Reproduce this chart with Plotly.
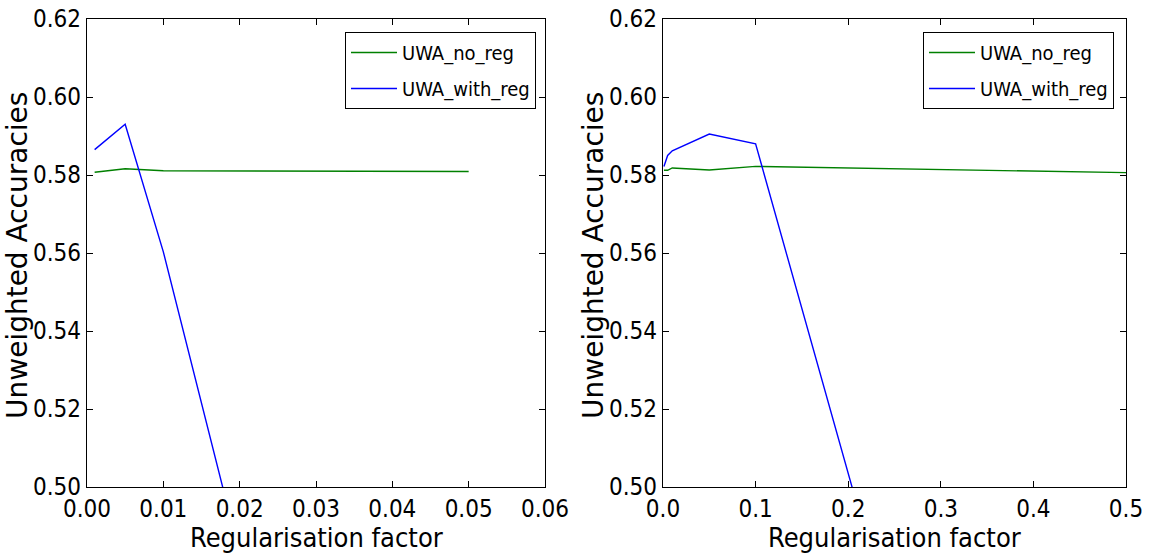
import plotly.graph_objects as go

# Left panel: small regularisation factors
reg_small = [0.001, 0.005, 0.01, 0.05]
uwa_no_reg_small = [0.5807, 0.5816, 0.5811, 0.5809]
uwa_with_reg_small = [0.5865, 0.5930, 0.5603, 0.2500]

# Right panel: wider range of regularisation factors
reg_wide = [0.001, 0.005, 0.01, 0.05, 0.1, 0.5]
uwa_no_reg_wide = [0.5812, 0.5812, 0.5818, 0.5813, 0.5822, 0.5806]
uwa_with_reg_wide = [0.5822, 0.5850, 0.5862, 0.5905, 0.5880, 0.2500]

y_ticks = [0.50, 0.52, 0.54, 0.56, 0.58, 0.60, 0.62]

GREEN = "#008000"
BLUE = "#0000ff"
COND = "DejaVu Sans Condensed, Liberation Sans Narrow, sans-serif"
TICK_FONT = dict(family=COND, size=24, color="black")
LEGEND_FONT = dict(family=COND, size=20, color="black")
TITLE_FONT_X = dict(family=COND, size=27, color="black")
TITLE_FONT_Y = dict(family="DejaVu Sans, sans-serif", size=28, color="black")

W, H = 1149, 555

fig = go.Figure()

fig.add_trace(go.Scatter(x=reg_small, y=uwa_no_reg_small, mode="lines", name="UWA_no_reg",
                         line=dict(color=GREEN, width=1.4), xaxis="x", yaxis="y",
                         legend="legend", legendgroup="a"))
fig.add_trace(go.Scatter(x=reg_small, y=uwa_with_reg_small, mode="lines", name="UWA_with_reg",
                         line=dict(color=BLUE, width=1.4), xaxis="x", yaxis="y",
                         legend="legend", legendgroup="b"))
fig.add_trace(go.Scatter(x=reg_wide, y=uwa_no_reg_wide, mode="lines", name="UWA_no_reg",
                         line=dict(color=GREEN, width=1.4), xaxis="x2", yaxis="y2",
                         legend="legend2", legendgroup="c"))
fig.add_trace(go.Scatter(x=reg_wide, y=uwa_with_reg_wide, mode="lines", name="UWA_with_reg",
                         line=dict(color=BLUE, width=1.4), xaxis="x2", yaxis="y2",
                         legend="legend2", legendgroup="d"))

axis_common = dict(showgrid=False, zeroline=False, showline=True, linecolor="black", linewidth=1.3,
                   mirror="allticks", ticks="inside", ticklen=6, tickwidth=1, tickcolor="black",
                   tickfont=TICK_FONT, automargin=False)

y_top = 1 - 19 / H
y_bot = 1 - 487 / H

legend_common = dict(xanchor="left", yanchor="top", bgcolor="white", bordercolor="black",
                     borderwidth=1, font=LEGEND_FONT, tracegroupgap=7, itemwidth=46)

fig.update_layout(
    width=W, height=H,
    margin=dict(l=0, r=0, t=0, b=0),
    paper_bgcolor="white", plot_bgcolor="white",
    xaxis=dict(domain=[87 / W, 545 / W], range=[0, 0.06], dtick=0.01, tick0=0, tickformat=".2f",
               anchor="y", **axis_common),
    yaxis=dict(domain=[y_bot, y_top], range=[0.50, 0.62], tickvals=y_ticks, tickformat=".2f",
               anchor="x", **axis_common),
    xaxis2=dict(domain=[663 / W, 1126 / W], range=[0, 0.5], dtick=0.1, tick0=0, tickformat=".1f",
                anchor="y2", **axis_common),
    yaxis2=dict(domain=[y_bot, y_top], range=[0.50, 0.62], tickvals=y_ticks, tickformat=".2f",
                anchor="x2", **axis_common),
    legend=dict(x=345 / W, y=1 - 32 / H, **legend_common),
    legend2=dict(x=923 / W, y=1 - 32 / H, **legend_common),
)

# Axis titles
for xc in [(87 + 545) / 2, (663 + 1126) / 2]:
    fig.add_annotation(text="Regularisation factor", x=xc / W, y=1 - 537 / H, xref="paper", yref="paper",
                       showarrow=False, font=TITLE_FONT_X, xanchor="center", yanchor="middle")
for xc in [18, 594]:
    fig.add_annotation(text="Unweighted Accuracies", x=xc / W, y=1 - 256 / H, xref="paper", yref="paper",
                       showarrow=False, font=TITLE_FONT_Y, textangle=-90, xanchor="center", yanchor="middle")

fig.write_html("out.html")
